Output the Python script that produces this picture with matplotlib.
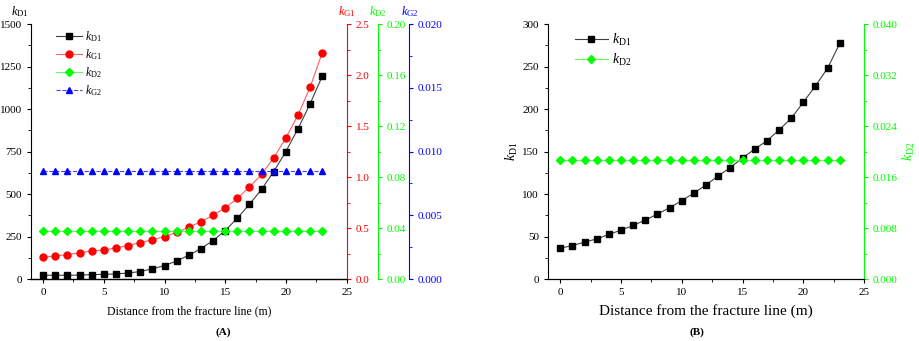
import matplotlib.pyplot as plt
from matplotlib.ticker import MultipleLocator, AutoMinorLocator

plt.rcParams['font.family'] = ['Liberation Serif', 'DejaVu Serif']
plt.rcParams['mathtext.fontset'] = 'custom'
plt.rcParams['mathtext.rm'] = 'Liberation Serif'
plt.rcParams['mathtext.it'] = 'Liberation Serif:italic'

# distance from the fracture line (m)
dist = list(range(24))

# panel A
kD1_a = [22, 22, 22, 23, 26, 27, 30, 35, 44, 60, 79, 106, 140, 179, 226, 285,
         358, 439, 528, 632, 750, 884, 1031, 1194]
kG1_a = [0.213, 0.226, 0.239, 0.256, 0.275, 0.285, 0.305, 0.328, 0.357, 0.384,
         0.416, 0.456, 0.508, 0.561, 0.626, 0.698, 0.790, 0.902, 1.026, 1.190,
         1.383, 1.608, 1.881, 2.220]
kD2_a = [0.0376] * 24
kG2_a = [0.0085] * 24

# panel B
kD1_b = [36.2, 39.4, 43.3, 47.2, 52.4, 57.5, 63.0, 69.3, 76.4, 83.9, 92.1,
         101.2, 110.6, 121.3, 131.1, 142.5, 152.8, 162.6, 175.2, 189.0, 207.9,
         227.2, 248.0, 277.2]
kD2_b = [0.0187] * 24

GREEN = '#00ff00'
BLUE = '#0000ff'
RED = '#ff0000'
FS = 8


def style(ax, side, color, loc):
    ax.tick_params(axis='y', direction='out', colors=color, labelsize=FS, length=3)
    ax.tick_params(axis='y', which='minor', direction='out', colors=color, length=2)
    ax.yaxis.set_major_locator(MultipleLocator(loc))
    ax.yaxis.set_minor_locator(AutoMinorLocator(2))
    ax.spines[side].set_color(color)


fig = plt.figure(figsize=(9.2, 3.41), dpi=100)

# ---------- panel A ----------
ax = fig.add_axes([0.0337, 0.1818, 0.343, 0.7478])
ax.spines['top'].set_visible(False)
ax.spines['right'].set_visible(False)
l1, = ax.plot(dist, kD1_a, color='#404040', lw=0.8, marker='s', ms=5,
              mfc='black', mec='black', label=r'$k_{\mathrm{D1}}$')
ax.set_xlim(-1, 25)
ax.set_ylim(0, 1500)
style(ax, 'left', 'black', 250)
ax.xaxis.set_major_locator(MultipleLocator(5))
ax.xaxis.set_minor_locator(AutoMinorLocator(2))
ax.tick_params(axis='x', labelsize=FS, length=3)
ax.tick_params(axis='x', which='minor', length=2)
ax.set_xlabel('Distance from the fracture line (m)', fontsize=8.5, labelpad=6)
fig.text(0.022, 0.965, r'$k_{\mathrm{D1}}$', fontsize=9, ha='center', va='center')

ax2 = ax.twinx()
for s in ['top', 'left']:
    ax2.spines[s].set_visible(False)
l2, = ax2.plot(dist, kG1_a, color='#ff6060', lw=0.8, marker='o', ms=5,
               mfc=RED, mec=RED, label=r'$k_{\mathrm{G1}}$')
ax2.set_ylim(0, 2.5)
style(ax2, 'right', RED, 0.5)
fig.text(0.377, 0.965, r'$k_{\mathrm{G1}}$', fontsize=9, ha='center', va='center', color=RED)

ax3 = ax.twinx()
for s in ['top', 'left']:
    ax3.spines[s].set_visible(False)
ax3.spines['right'].set_position(('outward', 22.3))
l3, = ax3.plot(dist, kD2_a, color='#60ff60', lw=0.8, marker='D', ms=4,
               mfc=GREEN, mec=GREEN, label=r'$k_{\mathrm{D2}}$')
ax3.set_ylim(0, 0.2)
style(ax3, 'right', GREEN, 0.04)
ax3.yaxis.set_major_formatter(plt.FuncFormatter(lambda v, p: f'{v:.2f}'))
fig.text(0.411, 0.965, r'$k_{\mathrm{D2}}$', fontsize=9, ha='center', va='center', color=GREEN)

ax4 = ax.twinx()
for s in ['top', 'left']:
    ax4.spines[s].set_visible(False)
ax4.spines['right'].set_position(('outward', 44.6))
l4, = ax4.plot(dist, kG2_a, color='#4040ff', lw=0.8, ls='--', marker='^', ms=5,
               mfc=BLUE, mec=BLUE, label=r'$k_{\mathrm{G2}}$')
ax4.set_ylim(0, 0.02)
style(ax4, 'right', BLUE, 0.005)
ax4.yaxis.set_major_formatter(plt.FuncFormatter(lambda v, p: f'{v:.3f}'))
fig.text(0.445, 0.965, r'$k_{\mathrm{G2}}$', fontsize=9, ha='center', va='center', color=BLUE)

ax.legend(handles=[l1, l2, l3, l4], loc='upper left', bbox_to_anchor=(0.045, 1.02),
          frameon=False, fontsize=8.5, handlelength=2.2, labelspacing=0.25,
          handletextpad=0.3)
fig.text(0.243, 0.018, '(A)', fontsize=8, fontweight='bold', ha='center')

# ---------- panel B ----------
bx = fig.add_axes([0.5957, 0.1818, 0.3435, 0.7478])
bx.spines['top'].set_visible(False)
bx.spines['right'].set_visible(False)
m1, = bx.plot(dist, kD1_b, color='#404040', lw=0.8, marker='s', ms=5,
              mfc='black', mec='black', label=r'$k_{\mathrm{D1}}$')
bx.set_xlim(-1, 25)
bx.set_ylim(0, 300)
style(bx, 'left', 'black', 50)
bx.xaxis.set_major_locator(MultipleLocator(5))
bx.xaxis.set_minor_locator(AutoMinorLocator(2))
bx.tick_params(axis='x', labelsize=FS, length=3)
bx.tick_params(axis='x', which='minor', length=2)
bx.set_xlabel('Distance from the fracture line (m)', fontsize=11, labelpad=5)
bx.set_ylabel(r'$k_{\mathrm{D1}}$', fontsize=10, labelpad=2)

bx2 = bx.twinx()
for s in ['top', 'left']:
    bx2.spines[s].set_visible(False)
m2, = bx2.plot(dist, kD2_b, color='#60ff60', lw=0.8, marker='D', ms=4,
               mfc=GREEN, mec=GREEN, label=r'$k_{\mathrm{D2}}$')
bx2.set_ylim(0, 0.04)
style(bx2, 'right', GREEN, 0.008)
bx2.yaxis.set_major_formatter(plt.FuncFormatter(lambda v, p: f'{v:.3f}'))
bx2.set_ylabel(r'$k_{\mathrm{D2}}$', fontsize=10, color=GREEN, labelpad=2)

bx.legend(handles=[m1, m2], loc='upper left', bbox_to_anchor=(0.045, 1.02),
          frameon=False, fontsize=10, handlelength=2.4, labelspacing=0.3,
          handletextpad=0.3)
fig.text(0.757, 0.018, '(B)', fontsize=8, fontweight='bold', ha='center')

fig.savefig('out.png', dpi=100)
